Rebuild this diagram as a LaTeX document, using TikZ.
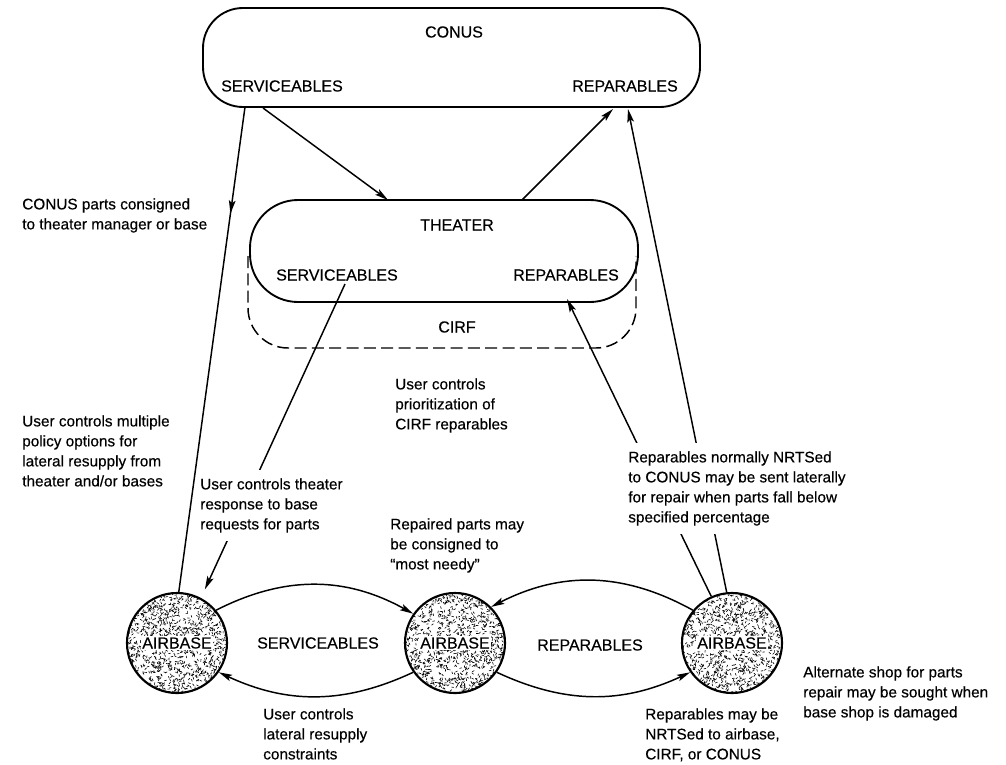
\documentclass[tikz,border=0pt]{standalone}
\usepackage{fontspec}
\setmainfont{Liberation Sans}
\newfontfamily\heavy{Liberation Sans}[FakeBold=0.35]
\usetikzlibrary{arrows.meta,decorations.markings,calc}
\begin{document}
\begin{tikzpicture}[x=0.75pt,y=-0.75pt,
  box/.style={draw, line width=1.4pt, rounded corners=30pt, inner sep=0pt},
  lbl/.style={font=\heavy\fontsize{12}{14}\selectfont, inner sep=1pt},
  note/.style={font=\heavy\fontsize{11.5}{15}\selectfont, align=left, anchor=north west, inner sep=0pt},
  notew/.style={note, fill=white, inner xsep=1pt, inner ysep=6pt},
  conn/.style={line width=1.1pt},
  tip/.style={-{Stealth[length=10pt,width=5pt,inset=2pt]}},
  arr/.style={conn, tip},
  midarr/.style={conn, postaction={decorate}, decoration={markings, mark=at position #1 with {\arrow{Stealth[length=10pt,width=5pt,inset=2pt]}}}},
  base/.style={circle, minimum size=75pt, inner sep=0pt, line width=1.6pt, draw},
  basetxt/.style={lbl, fill=white, inner xsep=1pt, inner ysep=1.2pt},
  cirfline/.style={line width=1.1pt, dash pattern=on 9pt off 4pt, rounded corners=30pt},
  fleck/.style={line width=0.45pt},
]
\useasboundingbox (0,0) rectangle (1006,764);

% CONUS
\node[box, minimum width=372.75pt, minimum height=74.25pt] (conus) at (451.5,57.5) {};
\node[lbl] (conusT) at (454,32) {CONUS};
\node[lbl] (cserv) at (282,86) {SERVICEABLES};
\node[lbl] (crep) at (625,86) {REPARABLES};

% THEATER and CIRF
\node[box, rounded corners=36pt, minimum width=291pt, minimum height=76.5pt] (theater) at (444,251) {};
\node[lbl] (theaterT) at (457,225) {THEATER};
\node[lbl] (tserv) at (337,275) {SERVICEABLES};
\node[lbl] (trep) at (566,275) {REPARABLES};
\coordinate (cirfA) at (248,256);
\coordinate (cirfB) at (248,348);
\coordinate (cirfC) at (636,348);
\coordinate (cirfD) at (636,256);
\draw[cirfline] (cirfA) -- (cirfB) -- (cirfC) -- (cirfD);
\node[lbl] (cirf) at (457,327) {CIRF};

% airbase texture
\pgfmathsetseed{12345}
\foreach \cx in {177,455,732}{
  \begin{scope}
    \clip (\cx,643) circle[radius=50];
    \foreach \i in {1,...,1300}{
      \pgfmathsetmacro{\px}{\cx+104*rnd-52}
      \pgfmathsetmacro{\py}{643+104*rnd-52}
      \pgfmathsetmacro{\pa}{360*rnd}
      \draw[fleck] (\px,\py) -- ++(\pa:2.4);
    }
  \end{scope}
}
\node[base] (A1) at (177,643) {};
\node[base] (A2) at (455,643) {};
\node[base] (A3) at (732,643) {};
\node[basetxt] (A1t) at (A1) {AIRBASE};
\node[basetxt] (A2t) at (A2) {AIRBASE};
\node[basetxt] (A3t) at (A3) {AIRBASE};
\node[lbl] (bserv) at (318,643) {SERVICEABLES};
\node[lbl] (brep) at (590,645) {REPARABLES};

% connector end points on the boxes
\coordinate (c1) at (245,107);
\coordinate (c2) at (263,108);
\coordinate (c3) at (613,109);
\coordinate (c4) at (628,109);
\coordinate (t1) at (388,200);
\coordinate (t2) at (522,200);
\coordinate (t3) at (345,284);
\coordinate (t4) at (567,299);

\draw[midarr=0.22] (c1) -- (A1.88);
\draw[arr] (c2) -- (t1);
\draw[arr] (t2) -- (c3);
\draw[arr] (A3.96) -- (c4);
\draw[arr] (A3.114) -- (t4);
\draw[arr, shorten >=7pt] (t3) -- (A1.62);

\draw[arr] (A1.40) to[bend left=28] (A2.145);
\draw[arr] (A2.215) to[bend left=25] (A1.-35);
\draw[arr] (A3.140) to[bend right=28] (A2.45);
\draw[arr] (A2.-35) to[bend right=25] (A3.215);

% notes
\node[note] (n1) at (22,198) {CONUS parts consigned\\to theater manager or base};
\node[note] (n2) at (22,415) {User controls multiple\\policy options for\\lateral resupply from\\theater and/or bases};
\node[note] (n3) at (395,378) {User controls\\prioritization of\\CIRF reparables};
\node[notew] (n4) at (198.7,470) {User controls theater\\response to base\\requests for parts};
\node[notew] (n5) at (626.7,443) {Reparables normally NRTSed\\to CONUS may be sent laterally\\for repair when parts fall below\\specified percentage};
\node[note] (n6) at (390,518) {Repaired parts may\\be consigned to\\“most needy”};
\node[note] (n7) at (263,708) {User controls\\lateral resupply\\constraints};
\node[note] (n8) at (645,708) {Reparables may be\\NRTSed to airbase,\\CIRF, or CONUS};
\node[note] (n9) at (803,666) {Alternate shop for parts\\repair may be sought when\\base shop is damaged};
\end{tikzpicture}
\end{document}
